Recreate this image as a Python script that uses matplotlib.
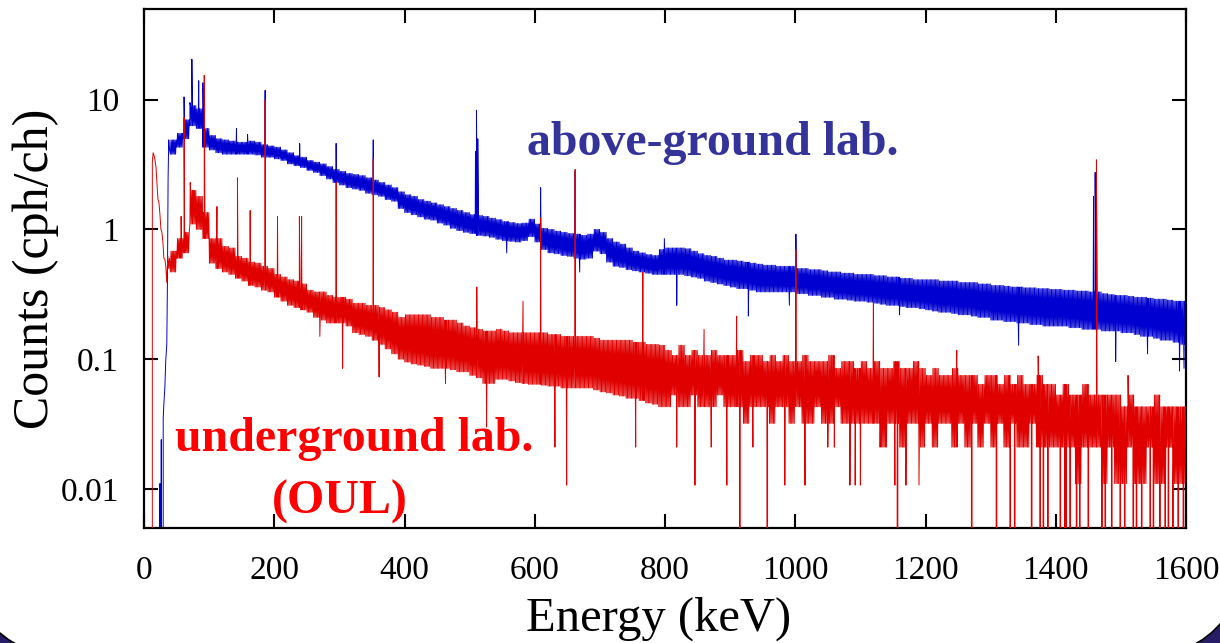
import numpy as np
import matplotlib
matplotlib.use("Agg")
import matplotlib.pyplot as plt
from matplotlib.patches import FancyBboxPatch, Rectangle

# ---------------- data ----------------
BIN_KEV = 10          # width of the envelope bins (keV)
BAND_START = 40       # first envelope bin (keV)
CHANNELS_PER_BIN = 10 # 1 keV channels

# above-ground lab: low/high envelope of the noisy continuum per 10 keV bin (cph/ch), 40..1600 keV
blue_lo = [3.8, 4.3, 5.0, 6.3, 6.0, 4.3,
           4.1, 3.9, 3.8, 3.8, 3.8, 3.8, 3.8, 3.75, 3.6, 3.6,
           3.5, 3.4, 3.2, 3.1, 3.0, 2.85, 2.75, 2.6, 2.45, 2.3,
           2.2, 2.1, 2.05, 2.0, 1.9, 1.85, 1.8, 1.7, 1.65, 1.45,
           1.35, 1.3, 1.25, 1.2, 1.18, 1.12, 1.08, 1.02, 0.98, 0.95,
           0.93, 0.9, 0.89, 0.87, 0.84, 0.82, 0.81, 0.8, 0.82, 0.88,
           0.8, 0.7, 0.66, 0.65, 0.63, 0.62, 0.6, 0.59, 0.6, 0.68,
           0.65, 0.56, 0.52, 0.51, 0.49, 0.48, 0.47, 0.46, 0.45, 0.45,
           0.45, 0.45, 0.45, 0.44, 0.43, 0.42, 0.4, 0.39, 0.38, 0.37,
           0.36, 0.35, 0.35, 0.34, 0.33, 0.33, 0.33, 0.33, 0.33, 0.33,
           0.32, 0.32, 0.31, 0.31, 0.3, 0.3, 0.29, 0.29, 0.285, 0.28,
           0.28, 0.275, 0.27, 0.265, 0.26, 0.26, 0.255, 0.25, 0.25, 0.245,
           0.24, 0.235, 0.23, 0.23, 0.225, 0.22, 0.22, 0.215, 0.21, 0.21,
           0.2, 0.2, 0.195, 0.195, 0.19, 0.19, 0.185, 0.185, 0.18, 0.18,
           0.18, 0.18, 0.175, 0.175, 0.17, 0.17, 0.17, 0.165, 0.165, 0.165,
           0.16, 0.16, 0.155, 0.15, 0.15, 0.145, 0.14, 0.14, 0.135, 0.13]
blue_hi = [4.9, 5.5, 7.0, 9.0, 8.5, 6.0,
           5.3, 5.0, 4.9, 4.8, 4.7, 4.7, 4.8, 4.7, 4.5, 4.4,
           4.3, 4.1, 3.9, 3.7, 3.6, 3.4, 3.3, 3.2, 3.05, 2.9,
           2.8, 2.7, 2.65, 2.6, 2.5, 2.4, 2.3, 2.2, 2.1, 1.95,
           1.85, 1.8, 1.7, 1.65, 1.6, 1.55, 1.5, 1.45, 1.4, 1.35,
           1.3, 1.28, 1.26, 1.22, 1.19, 1.15, 1.13, 1.11, 1.12, 1.2,
           1.1, 1.02, 1.0, 0.97, 0.95, 0.93, 0.92, 0.9, 0.92, 1.0,
           0.95, 0.85, 0.8, 0.77, 0.72, 0.68, 0.66, 0.64, 0.63, 0.7,
           0.72, 0.72, 0.72, 0.71, 0.68, 0.65, 0.63, 0.62, 0.6, 0.58,
           0.58, 0.57, 0.56, 0.55, 0.54, 0.53, 0.53, 0.52, 0.52, 0.52,
           0.5, 0.5, 0.49, 0.49, 0.48, 0.47, 0.47, 0.46, 0.46, 0.45,
           0.45, 0.45, 0.44, 0.44, 0.43, 0.43, 0.42, 0.42, 0.41, 0.41,
           0.41, 0.41, 0.4, 0.4, 0.4, 0.39, 0.39, 0.39, 0.38, 0.38,
           0.37, 0.37, 0.365, 0.36, 0.36, 0.355, 0.355, 0.35, 0.35, 0.345,
           0.345, 0.34, 0.34, 0.335, 0.335, 0.33, 0.33, 0.32, 0.315, 0.31,
           0.31, 0.305, 0.3, 0.3, 0.295, 0.29, 0.29, 0.285, 0.28, 0.28]
# threshold edge, peaks and isolated dips/spikes of the above-ground spectrum
blue_edge_E = [23, 24.5, 25.5, 26.5, 27.5, 29.5, 30.5, 32, 33.5, 35, 36, 37, 38, 39]
blue_edge_v = [0, 0.011, 0, 0.024, 0, 0.035, 0.045, 0.06, 0.1, 0.13, 0.4, 2.5, 4.9, 4.2]
blue_peak_E = [61.5, 70.5, 73.5, 84, 90.5, 142, 159, 186, 239, 295, 352,
               509, 510.5, 512.5, 609, 662, 799, 1001, 1458, 1460.5, 1462.5]
blue_peak_v = [10.5, 9.5, 20.5, 14.0, 13.5, 6.0, 5.4, 11.8, 4.6, 4.6, 4.9,
               4.0, 8.3, 5.0, 2.1, 2.8, 0.85, 0.92, 1.8, 2.75, 2.5]
blue_dip_E = [557, 669, 818, 928, 991, 1160, 1343, 1492, 1541, 1590, 1597]
blue_dip_v = [0.66, 0.47, 0.26, 0.215, 0.26, 0.22, 0.128, 0.096, 0.11, 0.081, 0.085]

# underground lab (OUL): envelope per 10 keV bin, 40..1600 keV
red_lo = [0.47, 0.6, 0.66, 1.1, 1.0, 0.85,
          0.55, 0.5, 0.47, 0.45, 0.42, 0.4, 0.37, 0.36, 0.34, 0.33,
          0.3, 0.28, 0.26, 0.25, 0.24, 0.23, 0.21, 0.2, 0.19, 0.19,
          0.19, 0.18, 0.16, 0.155, 0.15, 0.14, 0.13, 0.12, 0.11, 0.1,
          0.095, 0.092, 0.09, 0.088, 0.085, 0.085, 0.085, 0.083, 0.08, 0.08,
          0.075, 0.072, 0.065, 0.065, 0.07, 0.07, 0.068, 0.066, 0.065, 0.064,
          0.064, 0.063, 0.062, 0.062, 0.06, 0.06, 0.06, 0.06, 0.06, 0.058,
          0.056, 0.055, 0.053, 0.052, 0.05, 0.05, 0.048, 0.046, 0.045, 0.043,
          0.043, 0.053, 0.043, 0.043, 0.053, 0.043, 0.043, 0.043, 0.053, 0.043,
          0.043, 0.043, 0.032, 0.043, 0.043, 0.043, 0.032, 0.043, 0.043, 0.032,
          0.043, 0.032, 0.032, 0.043, 0.032, 0.032, 0.043, 0.032, 0.032, 0.032,
          0.032, 0.032, 0.032, 0.021, 0.032, 0.032, 0.021, 0.032, 0.032, 0.021,
          0.032, 0.021, 0.032, 0.032, 0.021, 0.032, 0.021, 0.032, 0.021, 0.032,
          0.021, 0.032, 0.021, 0.032, 0.021, 0.021, 0.032, 0.021, 0.021, 0.021,
          0.021, 0.021, 0.021, 0.011, 0.021, 0.021, 0.021, 0.011, 0.021, 0.011,
          0.011, 0.021, 0.011, 0.011, 0.021, 0.011, 0.011, 0.021, 0.011, 0.011]
red_hi = [0.68, 0.85, 0.95, 2.0, 1.8, 1.35,
          0.85, 0.85, 0.74, 0.72, 0.62, 0.6, 0.56, 0.55, 0.52, 0.5,
          0.45, 0.43, 0.41, 0.4, 0.38, 0.34, 0.33, 0.33, 0.31, 0.3,
          0.3, 0.29, 0.27, 0.27, 0.26, 0.26, 0.25, 0.24, 0.23, 0.21,
          0.22, 0.22, 0.22, 0.22, 0.21, 0.21, 0.2, 0.2, 0.19, 0.18,
          0.175, 0.17, 0.165, 0.165, 0.17, 0.165, 0.16, 0.16, 0.16, 0.16,
          0.16, 0.16, 0.155, 0.155, 0.15, 0.15, 0.15, 0.15, 0.15, 0.145,
          0.14, 0.14, 0.14, 0.14, 0.14, 0.135, 0.135, 0.13, 0.13, 0.128,
          0.117, 0.107, 0.128, 0.107, 0.117, 0.107, 0.107, 0.117, 0.107, 0.107,
          0.107, 0.117, 0.096, 0.107, 0.107, 0.096, 0.107, 0.096, 0.107, 0.096,
          0.096, 0.107, 0.096, 0.096, 0.096, 0.107, 0.085, 0.096, 0.096, 0.085,
          0.096, 0.085, 0.096, 0.085, 0.085, 0.096, 0.085, 0.085, 0.096, 0.085,
          0.075, 0.085, 0.075, 0.075, 0.085, 0.075, 0.075, 0.075, 0.064, 0.075,
          0.075, 0.064, 0.075, 0.064, 0.075, 0.064, 0.064, 0.075, 0.064, 0.064,
          0.053, 0.064, 0.053, 0.053, 0.064, 0.053, 0.053, 0.053, 0.053, 0.053,
          0.043, 0.053, 0.043, 0.043, 0.043, 0.053, 0.043, 0.043, 0.043, 0.043]
red_edge_E = [12.0, 12.8, 14, 15.5, 17, 18.5, 20, 21.5, 23, 24.5, 26, 27.5, 29, 30.5, 32, 33.5, 35, 36.5, 38, 39]
red_edge_v = [0, 3.3, 3.9, 3.7, 3.4, 3.0, 2.2, 1.7, 1.6, 1.3, 1.0, 0.95, 0.8, 0.6, 0.59, 0.52, 0.39, 0.62, 0.5, 0.6]
red_peak_E = [57, 61.5, 71, 75, 92.5, 112, 143.5, 163, 186, 205, 238.6, 242, 295, 352,
              511, 582, 609, 662, 766, 860, 910, 1001, 1120, 1248, 1373, 1462.5, 1511]
red_peak_v = [1.26, 7.3, 2.3, 2.0, 15.4, 1.5, 2.5, 1.4, 10.0, 1.26, 1.26, 1.26, 2.3, 3.5,
              0.36, 0.28, 1.23, 2.9, 0.47, 0.17, 0.215, 0.70, 0.28, 0.117, 0.106, 3.44, 0.075]
red_dip_E = [270, 305, 361, 463, 526, 631, 649, 755, 818, 846, 871, 895, 915, 935, 957, 984,
             1015, 1050, 1060, 1084, 1092, 1100, 1130, 1140, 1153, 1157, 1170, 1190,
             1271, 1309, 1330, 1337, 1363, 1376, 1381, 1388, 1406.5, 1414, 1416, 1422, 1432,
             1437, 1450, 1470.5, 1475.6, 1486, 1499, 1506, 1519, 1524, 1532, 1545, 1550,
             1560, 1568, 1573, 1580, 1588, 1596]
red_dip_v = [0.15, 0.085, 0.073, 0.065, 0.03, 0.021, 0.0107, 0.021, 0.021, 0.0107, 0.021, 0.0107, 0, 0.021, 0, 0.0107,
             0.0107, 0.021, 0.021, 0.0107, 0.0107, 0.0107, 0.021, 0.021, 0.0107, 0, 0.0107, 0.0107,
             0, 0, 0, 0, 0, 0, 0, 0, 0, 0, 0, 0, 0,
             0, 0, 0, 0, 0, 0, 0, 0, 0, 0, 0, 0,
             0, 0, 0, 0, 0, 0]

x_ticks = [0, 200, 400, 600, 800, 1000, 1200, 1400, 1600]
y_ticks = [0.01, 0.1, 1, 10]
y_ticklabels = ["0.01", "0.1", "1", "10"]


def spectrum(lo, hi, extra_E, extra_v):
    """Trace each bin's min/max envelope channel by channel (1 keV), merged with
    the individually read points (edges, peaks, dips)."""
    xs, ys = [], []
    step = BIN_KEV / CHANNELS_PER_BIN
    for i, (l, h) in enumerate(zip(lo, hi)):
        e0 = BAND_START + BIN_KEV * i
        for k in range(CHANNELS_PER_BIN):
            xs.append(e0 + step * (k + 0.5))
            ys.append(h if k % 2 else l)
    xs = np.concatenate([xs, np.concatenate(extra_E)])
    ys = np.concatenate([ys, np.concatenate(extra_v)])
    order = np.argsort(xs, kind="stable")
    return xs[order], ys[order]


bx, by = spectrum(blue_lo, blue_hi, [blue_edge_E, blue_peak_E, blue_dip_E],
                  [blue_edge_v, blue_peak_v, blue_dip_v])
rx, ry = spectrum(red_lo, red_hi, [red_edge_E, red_peak_E, red_dip_E],
                  [red_edge_v, red_peak_v, red_dip_v])

# ---------------- figure ----------------
W, H = 1220, 643
fig = plt.figure(figsize=(W / 100, H / 100), dpi=100)
plt.rcParams["font.family"] = ["Liberation Serif", "DejaVu Serif"]

# slide background with rounded white panel
bg = fig.add_axes([0, 0, 1, 1], zorder=-10)
bg.set_xlim(0, W)
bg.set_ylim(H, 0)
bg.axis("off")
bg.add_patch(Rectangle((0, 0), W, H, facecolor="#271d66", edgecolor="none"))
bg.add_patch(FancyBboxPatch((-36, -200), 1283, 860,
                            boxstyle="round,pad=0,rounding_size=125",
                            facecolor="white", edgecolor="black", linewidth=1.2))

ax = fig.add_axes([144 / W, 1 - 528 / H, (1186 - 144) / W, (528 - 9) / H])
ax.patch.set_alpha(0)
ax.plot(bx, by, color="#0000d0", linewidth=0.7, zorder=2)
ax.plot(rx, ry, color="#e00000", linewidth=0.7, zorder=3)

ax.set_yscale("log", nonpositive="clip")
ax.set_xlim(0, 1600)
ax.set_ylim(0.005, 50)
ax.set_xticks(x_ticks)
ax.set_xticklabels([str(t) for t in x_ticks])
ax.set_yticks(y_ticks)
ax.set_yticklabels(y_ticklabels)
ax.yaxis.set_minor_locator(matplotlib.ticker.NullLocator())
ax.tick_params(which="major", direction="in", length=10, width=1.5,
               top=True, right=True, labelsize=24, colors="black")
ax.tick_params(axis="x", pad=20)
ax.tick_params(axis="y", pad=18)
for s in ax.spines.values():
    s.set_linewidth(1.6)

ax.set_xlabel("Energy (keV)", fontsize=35)
ax.xaxis.set_label_coords(0.494, -0.1985)
ax.xaxis.label.set_va("baseline")
ax.set_ylabel("Counts (cph/ch)", fontsize=36, labelpad=1)

ax.text(874, 3.76, "above-ground lab.", color="#333399", fontsize=34.5,
        fontweight="bold", ha="center", va="baseline")
ax.text(323, 0.0195, "underground lab.", color="#ff0000", fontsize=34.5,
        fontweight="bold", ha="center", va="baseline")
ax.text(301, 0.0064, "(OUL)", color="#ff0000", fontsize=34.5,
        fontweight="bold", ha="center", va="baseline")

fig.savefig("out.png", dpi=100)
